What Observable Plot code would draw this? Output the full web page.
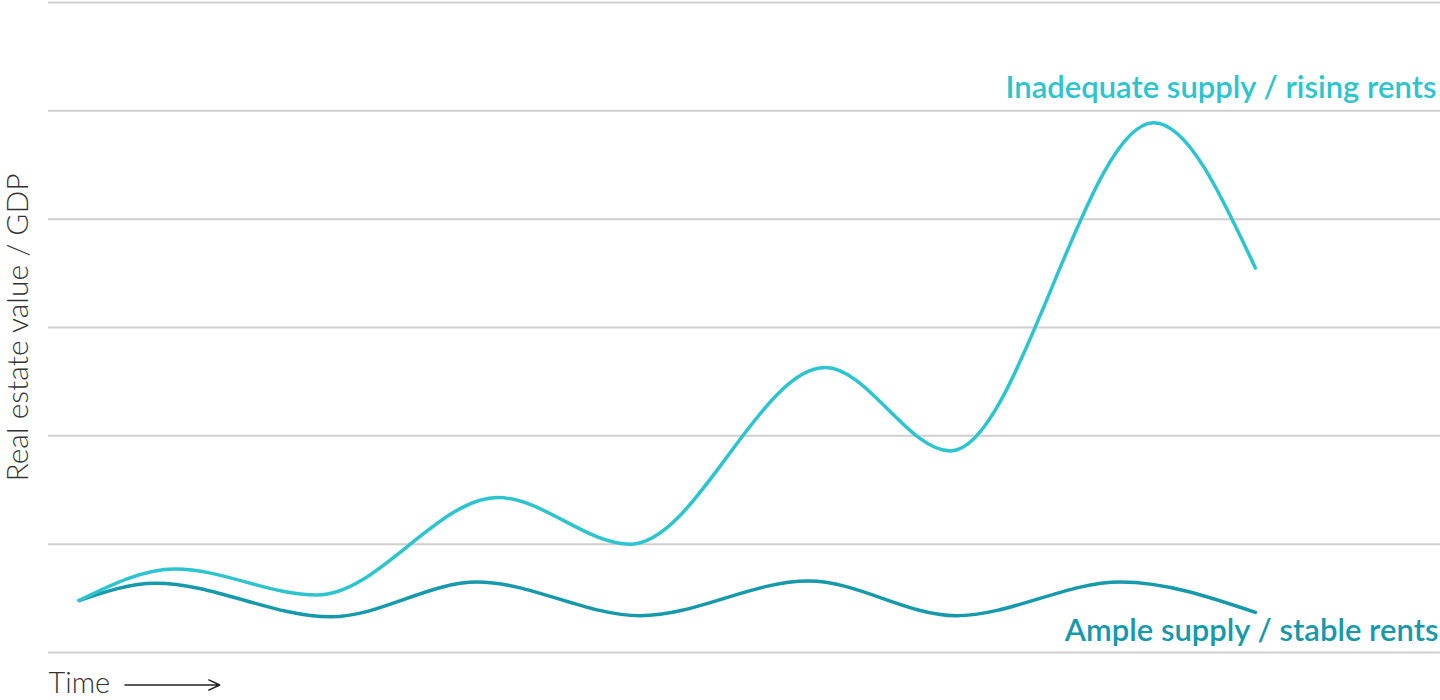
<!DOCTYPE html>
<html>
<head>
<meta charset="utf-8">
<script src="https://cdn.jsdelivr.net/npm/d3@7"></script>
<script src="https://cdn.jsdelivr.net/npm/@observablehq/plot@0.6"></script>
<style>
  html, body { margin: 0; padding: 0; background: #fff; }
  #chart svg { display: block; }
</style>
</head>
<body>
<div id="chart"></div>
<script>
// Time (arbitrary units) and Real estate value / GDP (arbitrary units)
const inadequateTime  = [2.2, 9.1, 19.3, 32.3, 41.8, 55.8, 64.8, 79.4, 86.7];
const inadequateValue = [0.48, 0.77, 0.53, 1.43, 1.00, 2.63, 1.86, 4.89, 3.55];

const ampleTime  = [2.2, 7.7, 20.3, 30.8, 42.5, 54.6, 65.2, 77.0, 86.7];
const ampleValue = [0.48, 0.64, 0.33, 0.65, 0.34, 0.66, 0.34, 0.65, 0.37];

const gridTicks = [0, 1, 2, 3, 4, 5, 6];
const seriesNames = ["Inadequate supply / rising rents", "Ample supply / stable rents"];
const seriesColors = ["#2cc4ce", "#1699aa"];
const yAxisLabel = "Real estate value / GDP";
const xAxisLabel = "Time";
const timeArrow = [{x1: 5.5, x2: 12.3, y: -0.3}];

const inadequate = inadequateTime.map((t, i) => ({t, v: inadequateValue[i]}));
const ample = ampleTime.map((t, i) => ({t, v: ampleValue[i]}));

const font = "Lato, 'Open Sans', sans-serif";

const chart = Plot.plot({
  width: 1440,
  height: 700,
  marginLeft: 48,
  marginRight: 0,
  marginTop: 2,
  marginBottom: 48,
  style: {fontFamily: font, background: "#fff", overflow: "visible"},
  x: {domain: [0, 100], axis: null},
  y: {domain: [0, 6], axis: null},
  marks: [
    Plot.ruleY(gridTicks, {stroke: "#cfcfcf", strokeWidth: 2}),
    Plot.line(ample, {x: "t", y: "v", curve: "monotone-x", stroke: seriesColors[1], strokeWidth: 3.5}),
    Plot.line(inadequate, {x: "t", y: "v", curve: "monotone-x", stroke: seriesColors[0], strokeWidth: 3.5}),
    Plot.text([seriesNames[0]], {frameAnchor: "top-right", text: d => d, dx: -4, dy: 73, fill: seriesColors[0], fontSize: 31, fontWeight: 600, textAnchor: "end", lineAnchor: "top"}),
    Plot.text([seriesNames[1]], {frameAnchor: "bottom-right", text: d => d, dx: -2, dy: -12, fill: seriesColors[1], fontSize: 31, fontWeight: 600, textAnchor: "end", lineAnchor: "bottom"}),
    Plot.text([yAxisLabel], {frameAnchor: "left", text: d => d, dx: -30, rotate: -90, fill: "#333", fontSize: 30, fontWeight: 300, textAnchor: "middle", lineAnchor: "middle"}),
    Plot.text([xAxisLabel], {frameAnchor: "bottom-left", text: d => d, dx: 0, dy: 31, fill: "#333", fontSize: 29, fontWeight: 300, textAnchor: "start", lineAnchor: "middle"}),
    Plot.arrow(timeArrow, {x1: "x1", x2: "x2", y1: "y", y2: "y", stroke: "#222", strokeWidth: 1.5, headLength: 12, headAngle: 50})
  ]
});
document.getElementById("chart").append(chart);
</script>
</body>
</html>
